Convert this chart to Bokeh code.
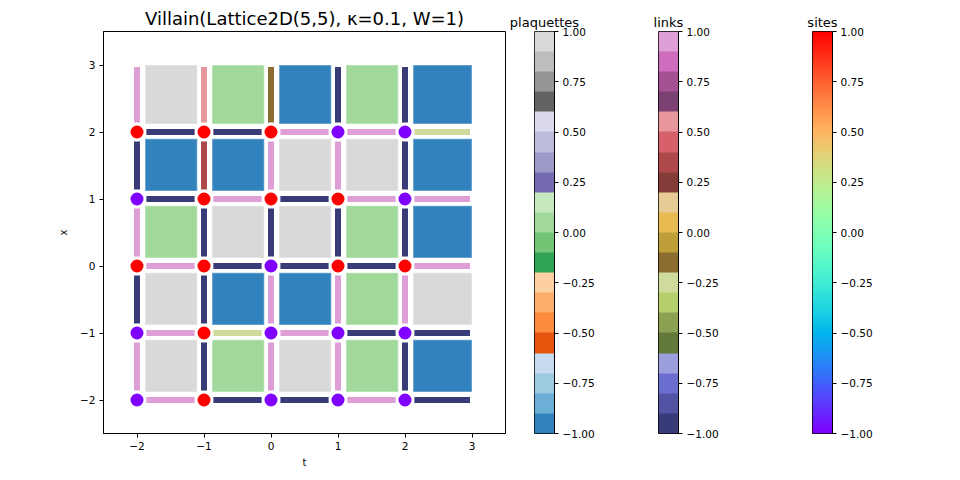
import numpy as np
from bokeh.plotting import figure
from bokeh.layouts import row
from bokeh.models import ColumnDataSource, LinearColorMapper, FixedTicker
from bokeh.transform import transform
from bokeh.palettes import Category20c_20, Category20b_20
from bokeh.embed import file_html
from bokeh.resources import INLINE

TITLE = "Villain(Lattice2D(5,5), κ=0.1, W=1)"
t_coords = [-2, -1, 0, 1, 2]
x_rows = [2, 1, 0, -1, -2]  # row order of the tables below (top to bottom)

site_values = [
    [1, 1, 1, -1, -1],
    [-1, 1, 1, 1, -1],
    [1, 1, -1, 1, 1],
    [-1, 1, -1, -1, -1],
    [-1, 1, -1, -1, -1],
]
plaquette_values = [
    [1, 0, -1, 0, -1],
    [-1, -1, 1, 1, -1],
    [0, 1, 1, 0, -1],
    [1, -1, -1, 0, 1],
    [1, 0, 1, 0, -1],
]
# links in the t direction: (t,x) -> (t+1,x)
link_t_values = [
    [-1, -1, 1, 1, -0.25],
    [-1, 1, -1, 1, 1],
    [1, -1, -1, -1, 1],
    [1, -0.25, 1, -1, -1],
    [1, -1, -1, 1, -1],
]
# links in the x direction: (t,x) -> (t,x+1)
link_x_values = [
    [1, 0.55, -0.15, -1, -1],
    [-1, 0.35, 1, 1, -1],
    [1, -1, -1, -1, -1],
    [-1, -1, 1, 1, 1],
    [1, -1, 1, 1, -1],
]

axis_ticks = [-2, -1, 0, 1, 2, 3]
axis_tick_labels = ["\u22122", "\u22121", "0", "1", "2", "3"]
cbar_ticks = [-1.0, -0.75, -0.5, -0.25, 0.0, 0.25, 0.5, 0.75, 1.0]
cbar_tick_labels = ["\u22121.00", "\u22120.75", "\u22120.50", "\u22120.25", "0.00",
                    "0.25", "0.50", "0.75", "1.00"]

FONT = "DejaVu Sans"


def rainbow(n=256):
    xs = np.linspace(0, 1, n)
    r = np.clip(np.abs(2 * xs - 0.5), 0, 1)
    g = np.clip(np.sin(xs * np.pi), 0, 1)
    b = np.clip(np.cos(xs * np.pi / 2), 0, 1)
    return ["#%02x%02x%02x" % (int(round(a * 255)), int(round(c * 255)), int(round(d * 255)))
            for a, c, d in zip(r, g, b)]


RAINBOW = rainbow()
plaq_mapper = LinearColorMapper(palette=list(Category20c_20), low=-1, high=1)
link_mapper = LinearColorMapper(palette=list(Category20b_20), low=-1, high=1)
site_mapper = LinearColorMapper(palette=RAINBOW, low=-1, high=1)

T, X = np.meshgrid(np.array(t_coords, float), np.array(x_rows, float))
T = T.ravel()
X = X.ravel()
tmax, xmax = max(t_coords), max(x_rows)

plaq_src = ColumnDataSource(dict(
    left=T + 0.12,
    right=np.where(T == tmax, T + 1.0, T + 0.9),
    bottom=X + 0.12,
    top=np.where(X == xmax, X + 1.0, X + 0.9),
    v=np.array(plaquette_values, float).ravel(),
))
lt_src = ColumnDataSource(dict(
    x0=T + 0.14, x1=np.where(T == tmax, T + 0.97, T + 0.86), y0=X, y1=X,
    v=np.array(link_t_values, float).ravel(),
))
lx_src = ColumnDataSource(dict(
    x0=T, x1=T, y0=X + 0.14, y1=np.where(X == xmax, X + 0.97, X + 0.86),
    v=np.array(link_x_values, float).ravel(),
))
site_src = ColumnDataSource(dict(t=T, x=X, v=np.array(site_values, float).ravel()))

p = figure(width=506, height=480, x_range=(-2.5, 3.5), y_range=(-2.5, 3.5),
           output_backend="svg", toolbar_location=None, title=TITLE,
           min_border_left=103, min_border_right=1, min_border_top=31, min_border_bottom=47)
p.title.text_font = FONT
p.title.text_font_size = "18px"
p.title.text_font_style = "normal"
p.title.text_color = "black"
p.title.align = "center"
p.title.standoff = 6
p.grid.visible = False
p.outline_line_color = "black"
p.outline_line_alpha = 1
p.outline_line_width = 1

p.quad(left="left", right="right", bottom="bottom", top="top", source=plaq_src,
       fill_color=transform("v", plaq_mapper), line_color="white", line_alpha=0.35, line_width=1.5)
for src in (lt_src, lx_src):
    p.segment(x0="x0", y0="y0", x1="x1", y1="y1", source=src,
              line_color=transform("v", link_mapper), line_width=6, line_cap="butt")
p.scatter(x="t", y="x", source=site_src, size=14.5, fill_color=transform("v", site_mapper),
          line_color="white", line_width=1.5)

for ax, lab in ((p.xaxis, "t"), (p.yaxis, "x")):
    ax.ticker = FixedTicker(ticks=axis_ticks)
    ax.major_label_overrides = dict(zip(axis_ticks, axis_tick_labels))
    ax.minor_tick_line_color = None
    ax.major_tick_in = 0
    ax.major_tick_out = 4
    ax.axis_label = lab
    ax.axis_label_text_font = FONT
    ax.axis_label_text_font_style = "normal"
    ax.axis_label_text_font_size = "10px"
    ax.major_label_text_font = FONT
    ax.major_label_text_font_size = "10.5px"
    ax.axis_line_color = "black"
    ax.major_tick_line_color = "black"
    ax.major_label_text_color = "black"
    ax.axis_label_text_color = "black"
p.xaxis.major_label_standoff = 4
p.yaxis.major_label_standoff = 4
p.xaxis.axis_label_standoff = 4
p.yaxis.axis_label_standoff = 8


def make_cbar(title, mapper, n, width, left):
    cb = figure(width=width, height=480, x_range=(0, 1), y_range=(-1, 1),
                output_backend="svg", toolbar_location=None, title=title,
                x_axis_location=None, y_axis_location="right",
                min_border_left=left, min_border_right=width - left - 20,
                min_border_top=31, min_border_bottom=47)
    vals = (-1 + (np.arange(n) + 0.5) * (2.0 / n)).reshape(n, 1)
    cb.image(image=[vals], x=0, y=-1, dw=1, dh=2, color_mapper=mapper)
    cb.grid.visible = False
    cb.outline_line_color = "black"
    cb.outline_line_alpha = 1
    cb.title.text_font = FONT
    cb.title.text_font_size = "13px"
    cb.title.text_font_style = "normal"
    cb.title.text_color = "black"
    cb.title.align = "center"
    cb.title.standoff = 3
    ax = cb.yaxis
    ax.ticker = FixedTicker(ticks=cbar_ticks)
    ax.major_label_overrides = dict(zip(cbar_ticks, cbar_tick_labels))
    ax.minor_tick_line_color = None
    ax.major_tick_in = 0
    ax.major_tick_out = 4
    ax.major_label_standoff = 4
    ax.major_label_text_font = FONT
    ax.major_label_text_font_size = "10.5px"
    ax.major_label_text_color = "black"
    ax.axis_line_color = "black"
    ax.major_tick_line_color = "black"
    return cb


cb1 = make_cbar("plaquettes", plaq_mapper, 20, 114, 28)
cb2 = make_cbar("links", link_mapper, 20, 150, 38)
cb3 = make_cbar("sites", site_mapper, 256, 190, 42)

layout = row(p, cb1, cb2, cb3)
open("out.html", "w").write(file_html(layout, INLINE))
